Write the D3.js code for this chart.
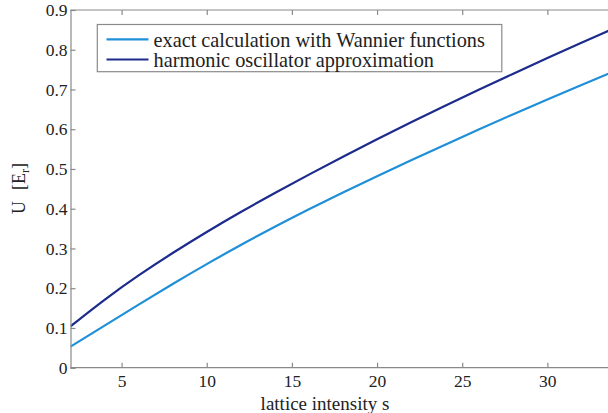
<!DOCTYPE html>
<html><head><meta charset="utf-8">
<script src="https://cdn.jsdelivr.net/npm/d3@7"></script>
<style>html,body{margin:0;padding:0;background:#fff;overflow:hidden}
svg text{font-family:"Liberation Serif","Times New Roman","DejaVu Serif",serif !important;}
</style>
</head><body>
<svg id="c" width="608" height="413"></svg>
<script>
const sValues = [2,4,6,8,10,12,14,16,18,20,22,24,26,28,30,32,33.6];
const exactU = [0.053,0.106,0.159,0.211,0.261,0.309,0.355,0.399,0.441,0.482,0.522,0.561,0.600,0.638,0.675,0.711,0.740];
const harmonicU = [0.104,0.172,0.233,0.289,0.342,0.392,0.440,0.486,0.531,0.575,0.618,0.659,0.700,0.740,0.779,0.818,0.848];
const xTicks = [5,10,15,20,25,30];
const yTicks = [0,0.1,0.2,0.3,0.4,0.5,0.6,0.7,0.8,0.9];
const seriesNames = ["exact calculation with Wannier functions","harmonic oscillator approximation"];
const colors = ["#1f90d8","#1c2b8c"];

const svg = d3.select("#c");
const L = 70.5, T = 10, B = 367.7, R = 608;
const x = d3.scaleLinear().domain([2,33.56]).range([L,R]);
const y = d3.scaleLinear().domain([0,0.9]).range([B,T]);
const axisCol = "#8a8a8a";

svg.append("clipPath").attr("id","pc").append("rect")
  .attr("x",L).attr("y",T).attr("width",R-L).attr("height",B-T);

const line = d3.line().x((d,i)=>x(sValues[i])).y(d=>y(d)).curve(d3.curveBasis);
[exactU, harmonicU].forEach((vals,k)=>{
  svg.append("path").attr("d",line(vals)).attr("fill","none")
    .attr("stroke",colors[k]).attr("stroke-width",2.2).attr("clip-path","url(#pc)");
});

const gx = svg.append("g").attr("transform",`translate(0,${B})`)
  .call(d3.axisBottom(x).tickValues(xTicks).tickSize(-5).tickPadding(6.5).tickFormat(d3.format("d")));
const gxt = svg.append("g").attr("transform",`translate(0,${T})`)
  .call(d3.axisTop(x).tickValues(xTicks).tickSize(-5).tickFormat(""));
const gy = svg.append("g").attr("transform",`translate(${L},0)`)
  .call(d3.axisLeft(y).tickValues(yTicks).tickSize(-5).tickPadding(3)
    .tickFormat(d=> d===0 ? "0" : d3.format(".1f")(d)));
[gx,gxt,gy].forEach(g=>{
  g.select(".domain").attr("stroke",axisCol).attr("stroke-width",1.2);
  g.selectAll(".tick line").attr("stroke",axisCol).attr("stroke-width",1.2);
  g.selectAll("text").attr("font-size",17.5).attr("fill","#222");
});
gx.selectAll(".domain").attr("d",`M${L},0H${R}`);
gxt.selectAll(".domain").attr("d",`M${L},0H${R}`);

svg.append("text").attr("x",325).attr("y",409.5).attr("text-anchor","middle")
  .attr("font-size",19).attr("fill","#222").text("lattice intensity s");
const yl = svg.append("text").attr("transform","translate(25,188.5) rotate(-90)")
  .attr("text-anchor","middle").attr("font-size",18).attr("fill","#222");
yl.append("tspan").text("U");
yl.append("tspan").attr("dx",11).text("[E");
yl.append("tspan").attr("font-size",12).attr("dy",4).text("r");
yl.append("tspan").attr("dy",-4).text("]");

const lg = svg.append("g");
lg.append("rect").attr("x",97.3).attr("y",24.5).attr("width",404.5).attr("height",47.2)
  .attr("fill","#fff").attr("stroke",axisCol).attr("stroke-width",1.2);
seriesNames.forEach((n,i)=>{
  const yy = 39.3 + i*20.2;
  lg.append("line").attr("x1",106.5).attr("x2",148.5).attr("y1",yy).attr("y2",yy)
    .attr("stroke",colors[i]).attr("stroke-width",2.2);
  lg.append("text").attr("x",153.5).attr("y",yy+7.5)
    .attr("font-size",20.3).attr("fill","#222").text(n);
});
</script>
</body></html>
